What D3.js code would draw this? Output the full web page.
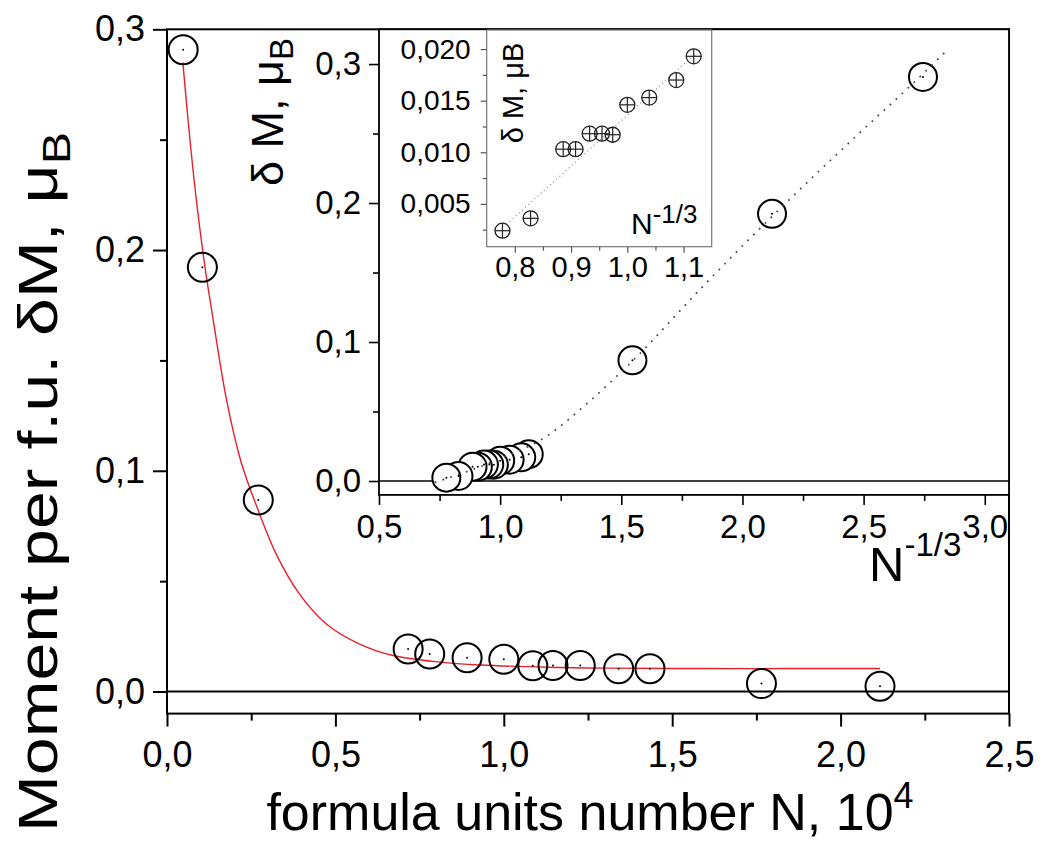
<!DOCTYPE html>
<html><head><meta charset="utf-8">
<script src="https://cdn.jsdelivr.net/npm/d3@7"></script>
<style>
body{margin:0;background:#fff}
svg{display:block}
text{font-family:"Liberation Sans",Arial,sans-serif;fill:#000}
</style>
</head><body>
<svg id="c" width="1043" height="842"></svg>
<script>
// ---- data ----
// main panel: formula units number N (10^4) vs moment per f.u. dM (muB)
const mainN = [0.048, 0.105, 0.271, 0.716, 0.780, 0.891, 1.000, 1.086, 1.146, 1.227, 1.341, 1.434, 1.765, 2.117];
const mainM = [0.2907, 0.1922, 0.0868, 0.0193, 0.0170, 0.0153, 0.0146, 0.0117, 0.0118, 0.0118, 0.0103, 0.0103, 0.0036, 0.0024];
// inset: N^-1/3 for the same points
const insetX = [2.745, 2.122, 1.546, 1.118, 1.087, 1.039, 1.000, 0.974, 0.955, 0.933, 0.908, 0.886, 0.828, 0.778];
// inner (zoomed) inset points
const innerX = [1.118, 1.087, 1.039, 1.000, 0.974, 0.955, 0.933, 0.908, 0.886, 0.828, 0.778];
const innerM = [0.0193, 0.0170, 0.0153, 0.0146, 0.0117, 0.0118, 0.0118, 0.0103, 0.0103, 0.0036, 0.0024];
const fitN = [0.047, 0.07, 0.09, 0.113, 0.1375, 0.177, 0.22, 0.266, 0.325, 0.394, 0.474, 0.572, 0.671, 0.81, 0.93, 1.13, 1.32, 1.58, 1.85, 2.117];
const fitM = [0.285, 0.247, 0.219, 0.192, 0.168, 0.132, 0.104, 0.084, 0.062, 0.044, 0.0305, 0.0215, 0.0163, 0.0133, 0.0120, 0.0110, 0.0106, 0.0104, 0.0104, 0.0104];
const guideX = [0.73, 0.85, 1.0, 1.19, 1.36, 1.55, 1.82, 2.12, 2.45, 2.745, 2.85];
const guideM = [-0.001, 0.006, 0.016, 0.032, 0.056, 0.087, 0.137, 0.19, 0.245, 0.293, 0.311];
// dotted guide in inner inset
const innerGuideX = [0.785, 1.12];
const innerGuideM = [0.0030, 0.0195];
// ticks
const mainXTicks = [0, 0.5, 1.0, 1.5, 2.0, 2.5];
const mainXMinor = [0.25, 0.75, 1.25, 1.75, 2.25];
const mainYTicks = [0, 0.1, 0.2, 0.3];
const mainYMinor = [0.05, 0.15, 0.25];
const insetXTicks = [0.5, 1.0, 1.5, 2.0, 2.5, 3.0];
const insetXMinor = [0.75, 1.25, 1.75, 2.25, 2.75];
const insetYTicks = [0, 0.1, 0.2, 0.3];
const insetYMinor = [0.05, 0.15, 0.25];
const innerXTicks = [0.8, 0.9, 1.0, 1.1];
const innerXMinor = [0.85, 0.95, 1.05];
const innerYTicks = [0.005, 0.010, 0.015, 0.020];
const innerYMinor = [0.0025, 0.0075, 0.0125, 0.0175];

const comma = (d, p) => d.toFixed(p).replace('.', ',');
const svg = d3.select('#c');

// ---- main panel ----
const x = d3.scaleLinear([0, 2.5], [167, 1009]);
const y = d3.scaleLinear([-0.01, 0.3], [713.6, 29.3]);
const g = svg.append('g');

function axisTicks(sel, axis) { sel.call(axis); sel.select('.domain').remove(); sel.selectAll('line').attr('stroke', '#000'); return sel; }

axisTicks(g.append('g').attr('transform', `translate(0,${y(-0.01)})`),
  d3.axisBottom(x).tickValues(mainXTicks).tickSizeInner(13).tickSizeOuter(0).tickPadding(15).tickFormat(d => comma(d, 1)))
  .selectAll('text').attr('font-size', 36).attr('fill', '#000');
axisTicks(g.append('g').attr('transform', `translate(0,${y(-0.01)})`),
  d3.axisBottom(x).tickValues(mainXMinor).tickSizeInner(7).tickSizeOuter(0).tickFormat(''));
g.selectAll('.tick line').attr('stroke-width', 2);
axisTicks(g.append('g').attr('transform', `translate(${x(0)},0)`),
  d3.axisLeft(y).tickValues(mainYTicks).tickSizeInner(14).tickSizeOuter(0).tickPadding(8).tickFormat(d => comma(d, 1)))
  .selectAll('text').attr('font-size', 36).attr('fill', '#000');
axisTicks(g.append('g').attr('transform', `translate(${x(0)},0)`),
  d3.axisLeft(y).tickValues(mainYMinor).tickSizeInner(7).tickSizeOuter(0).tickFormat(''));
g.selectAll('.tick line').attr('stroke-width', 2);

// zero line and frame
g.append('line').attr('x1', x(0)).attr('x2', x(2.5)).attr('y1', y(0)).attr('y2', y(0)).attr('stroke', '#000').attr('stroke-width', 2);
g.append('rect').attr('x', x(0)).attr('y', y(0.3)).attr('width', x(2.5) - x(0)).attr('height', y(-0.01) - y(0.3))
  .attr('fill', 'none').attr('stroke', '#000').attr('stroke-width', 2);

// red fit curve
const fitData = fitN.map((n, i) => [n, fitM[i]]);
g.append('path').datum(fitData)
  .attr('d', d3.line().x(d => x(d[0])).y(d => y(d[1])).curve(d3.curveCatmullRom.alpha(0.5)))
  .attr('fill', 'none').attr('stroke', '#e8202a').attr('stroke-width', 1.4);

const mainData = mainN.map((n, i) => [n, mainM[i]]);
g.selectAll('circle.m').data(mainData).join('circle').attr('class', 'm')
  .attr('cx', d => x(d[0])).attr('cy', d => y(d[1])).attr('r', 14.5)
  .attr('fill', 'none').attr('stroke', '#000').attr('stroke-width', 2);
g.selectAll('circle.md').data(mainData).join('circle').attr('class', 'md')
  .attr('cx', d => x(d[0])).attr('cy', d => y(d[1])).attr('r', 1).attr('fill', '#000');

// axis titles
const xt = svg.append('text').attr('x', 590).attr('y', 830).attr('text-anchor', 'middle').attr('font-size', 52);
xt.append('tspan').text('formula units number N, 10');
xt.append('tspan').attr('dy', -22).attr('font-size', 36).text('4');
const yt = svg.append('text').attr('transform', 'translate(57,482) rotate(-90)').attr('text-anchor', 'middle')
  .attr('font-size', 55).attr('textLength', 700).attr('lengthAdjust', 'spacingAndGlyphs');
yt.append('tspan').text('Moment per f.u. \u03B4M, \u03BC');
yt.append('tspan').attr('dy', 13).attr('font-size', 39).text('B');

// ---- inset ----
const ix = d3.scaleLinear([0.5, 3.1], [379, 1009]);
const iy = d3.scaleLinear([-0.01, 0.325], [494.9, 29.3]);
const h = svg.append('g');
h.append('rect').attr('x', ix(0.5)).attr('y', iy(0.325)).attr('width', ix(3.1) - ix(0.5)).attr('height', iy(-0.01) - iy(0.325)).attr('fill', '#fff');
axisTicks(h.append('g').attr('transform', `translate(0,${iy(-0.01)})`),
  d3.axisBottom(ix).tickValues(insetXTicks).tickSizeInner(10).tickSizeOuter(0).tickPadding(10).tickFormat(d => comma(d, 1)))
  .selectAll('text').attr('font-size', 33).attr('fill', '#000');
axisTicks(h.append('g').attr('transform', `translate(0,${iy(-0.01)})`),
  d3.axisBottom(ix).tickValues(insetXMinor).tickSizeInner(6).tickSizeOuter(0).tickFormat(''));
axisTicks(h.append('g').attr('transform', `translate(${ix(0.5)},0)`),
  d3.axisLeft(iy).tickValues(insetYTicks).tickSizeInner(10).tickSizeOuter(0).tickPadding(8).tickFormat(d => comma(d, 1)))
  .selectAll('text').attr('font-size', 33).attr('fill', '#000');
axisTicks(h.append('g').attr('transform', `translate(${ix(0.5)},0)`),
  d3.axisLeft(iy).tickValues(insetYMinor).tickSizeInner(6).tickSizeOuter(0).tickFormat(''));
h.selectAll('.tick line').attr('stroke-width', 1.6);
h.append('line').attr('x1', ix(0.5)).attr('x2', ix(3.1)).attr('y1', iy(0)).attr('y2', iy(0)).attr('stroke', '#000').attr('stroke-width', 1.6);
h.append('rect').attr('x', ix(0.5)).attr('y', iy(0.325)).attr('width', ix(3.1) - ix(0.5)).attr('height', iy(-0.01) - iy(0.325))
  .attr('fill', 'none').attr('stroke', '#000').attr('stroke-width', 1.8);

const insetData = insetX.map((v, i) => [v, mainM[i]]);
h.selectAll('circle.i').data(insetData).join('circle').attr('class', 'i')
  .attr('cx', d => ix(d[0])).attr('cy', d => iy(d[1])).attr('r', 14)
  .attr('fill', '#fff').attr('stroke', '#000').attr('stroke-width', 2);
const guideData = guideX.map((v, i) => [v, guideM[i]]);
h.append('path').datum(guideData)
  .attr('d', d3.line().x(d => ix(d[0])).y(d => iy(d[1])).curve(d3.curveMonotoneX))
  .attr('fill', 'none').attr('stroke', '#444').attr('stroke-width', 1.7).attr('stroke-dasharray', '1.7 6.5');
h.selectAll('circle.id').data(insetData).join('circle').attr('class', 'id')
  .attr('cx', d => ix(d[0])).attr('cy', d => iy(d[1])).attr('r', 1).attr('fill', '#000');

const it1 = svg.append('text').attr('transform', 'translate(283,112) rotate(-90)').attr('text-anchor', 'middle').attr('font-size', 45);
it1.append('tspan').text('\u03B4 M, \u03BC');
it1.append('tspan').attr('dy', 10).attr('font-size', 33).text('B');
const it2 = svg.append('text').attr('x', 869).attr('y', 581).attr('font-size', 49);
it2.append('tspan').text('N');
it2.append('tspan').attr('dy', -25).attr('font-size', 33).text('-1/3');

// ---- inner inset ----
const jx = d3.scaleLinear([0.75, 1.15], [486.7, 711.7]);
const jy = d3.scaleLinear([0.00085, 0.02185], [246.7, 30]);
const k = svg.append('g');
k.append('rect').attr('x', jx(0.75)).attr('y', jy(0.02185)).attr('width', jx(1.15) - jx(0.75)).attr('height', jy(0.00085) - jy(0.02185))
  .attr('fill', '#fff').attr('stroke', '#777').attr('stroke-width', 1.2);
axisTicks(k.append('g').attr('transform', `translate(0,${jy(0.00085)})`),
  d3.axisBottom(jx).tickValues(innerXTicks).tickSizeInner(6).tickSizeOuter(0).tickPadding(4).tickFormat(d => comma(d, 1)))
  .selectAll('text').attr('font-size', 29).attr('fill', '#000');
axisTicks(k.append('g').attr('transform', `translate(0,${jy(0.00085)})`),
  d3.axisBottom(jx).tickValues(innerXMinor).tickSizeInner(4).tickSizeOuter(0).tickFormat(''));
axisTicks(k.append('g').attr('transform', `translate(${jx(0.75)},0)`),
  d3.axisLeft(jy).tickValues(innerYTicks).tickSizeInner(6).tickSizeOuter(0).tickPadding(10).tickFormat(d => comma(d, 3)))
  .selectAll('text').attr('font-size', 28).attr('fill', '#000');
axisTicks(k.append('g').attr('transform', `translate(${jx(0.75)},0)`),
  d3.axisLeft(jy).tickValues(innerYMinor).tickSizeInner(4).tickSizeOuter(0).tickFormat(''));
k.selectAll('.tick line').attr('stroke', '#555').attr('stroke-width', 1.2);

const innerGuide = innerGuideX.map((v, i) => [v, innerGuideM[i]]);
k.append('path').datum(innerGuide)
  .attr('d', d3.line().x(d => jx(d[0])).y(d => jy(d[1])))
  .attr('fill', 'none').attr('stroke', '#999').attr('stroke-width', 1.2).attr('stroke-dasharray', '1.2 3');
const innerData = innerX.map((v, i) => [v, innerM[i]]);
const mk = k.selectAll('g.mk').data(innerData).join('g').attr('class', 'mk')
  .attr('transform', d => `translate(${jx(d[0])},${jy(d[1])})`);
mk.append('circle').attr('r', 7.5).attr('fill', 'none').attr('stroke', '#222').attr('stroke-width', 1.3);
mk.append('line').attr('x1', -7.5).attr('x2', 7.5).attr('stroke', '#222').attr('stroke-width', 1.2);
mk.append('line').attr('y1', -7.5).attr('y2', 7.5).attr('stroke', '#222').attr('stroke-width', 1.2);

const jt1 = svg.append('text').attr('transform', 'translate(523,93) rotate(-90)').attr('text-anchor', 'middle').attr('font-size', 29);
jt1.append('tspan').text('\u03B4 M, \u03BCB');
const jt2 = svg.append('text').attr('x', 631).attr('y', 234).attr('font-size', 30);
jt2.append('tspan').text('N');
jt2.append('tspan').attr('dy', -11).attr('font-size', 26).text('-1/3');
</script>
</body></html>
